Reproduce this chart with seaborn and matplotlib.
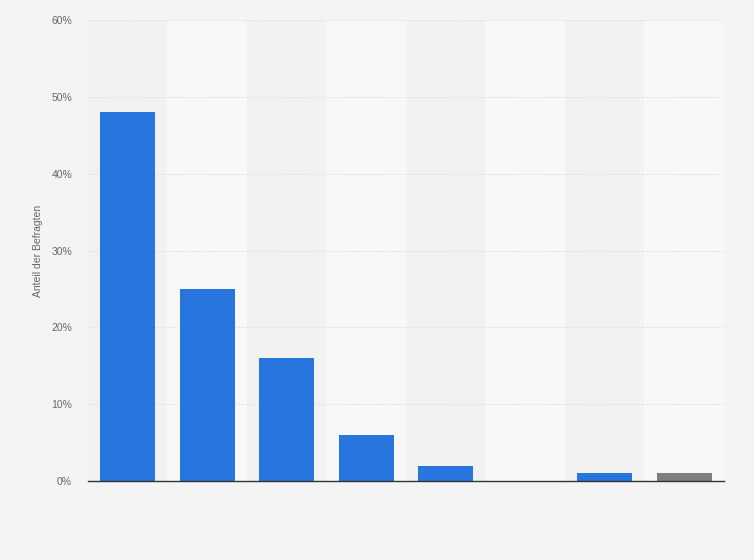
import numpy as np
import pandas as pd
import matplotlib.pyplot as plt
import seaborn as sns

categories = ['A', 'B', 'C', 'D', 'E', 'F', 'G', 'H']
shares = [48, 25, 16, 6, 2, 0, 1, 1]
bar_colors = ['#2876dd'] * 7 + ['#7f7f7f']

df = pd.DataFrame({'cat': categories, 'share': shares})

sns.set_theme(style="white")
plt.rcParams['font.family'] = ['Liberation Sans', 'DejaVu Sans']

fig = plt.figure(figsize=(7.54, 5.60), dpi=100, facecolor='#f4f4f4')
ax = fig.add_axes([0.1167, 0.141, 0.8435, 0.823])
ax.set_facecolor('#f4f4f4')

# alternating column bands
for i in range(len(categories)):
    col = '#f2f2f2' if i % 2 == 0 else '#f8f8f8'
    ax.axvspan(i - 0.5, i + 0.5, color=col, zorder=0, lw=0)

sns.barplot(data=df, x='cat', y='share', hue='cat', palette=bar_colors,
            legend=False, width=0.69, saturation=1, ax=ax, zorder=3,
            edgecolor='none', linewidth=0)

ax.set_xlim(-0.5, len(categories) - 0.5)
ax.set_ylim(0, 60)
ax.set_yticks(np.arange(0, 61, 10))
ax.set_yticklabels([f'{v}%' for v in range(0, 61, 10)], fontsize=7.5, color='#666666')
ax.tick_params(axis='y', length=0, pad=11.5)
ax.set_xticks([])
ax.set_xlabel('')
ax.set_ylabel('Anteil der Befragten', fontsize=7.5, color='#666666', labelpad=6)

for y in range(10, 61, 10):
    ax.axhline(y, color='#d9d9d9', lw=0.8, ls=(0, (1, 1.5)), zorder=1)

for s in ['top', 'right', 'left']:
    ax.spines[s].set_visible(False)
ax.spines['bottom'].set_color('#333333')
ax.spines['bottom'].set_linewidth(1.0)
ax.spines['bottom'].set_zorder(5)

fig.savefig('out.png', dpi=100, facecolor='#f4f4f4')
